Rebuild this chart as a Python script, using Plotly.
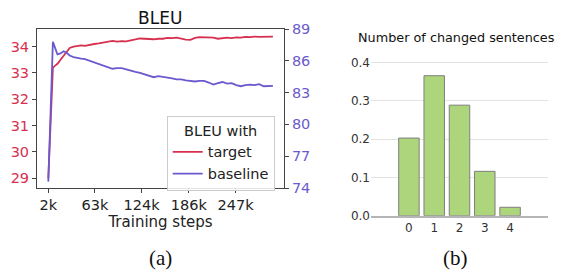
import plotly.graph_objects as go

# ---- data ----
steps_k = [2, 5, 8, 11, 14, 18, 22, 26, 30, 35, 40, 45, 50, 56, 62, 68, 74, 80, 86, 92,
           98, 104, 110, 116, 122, 128, 134, 140, 146, 152, 158, 164, 170, 176, 182, 188,
           194, 200, 206, 212, 218, 224, 230, 236, 242, 248, 254, 260, 266, 272, 278, 284,
           290, 296]
bleu_target = [29.0, 30.9, 33.2, 33.28, 33.35, 33.5, 33.65, 33.8, 33.95, 34.0, 34.02, 34.05,
               34.03, 34.07, 34.1, 34.12, 34.16, 34.2, 34.22, 34.19, 34.21, 34.2, 34.24, 34.27,
               34.31, 34.3, 34.29, 34.28, 34.3, 34.3, 34.33, 34.32, 34.34, 34.3, 34.27, 34.26,
               34.33, 34.36, 34.35, 34.34, 34.34, 34.3, 34.33, 34.34, 34.32, 34.35, 34.34, 34.37,
               34.36, 34.38, 34.37, 34.38, 34.39, 34.38]
bleu_baseline = [74.6, 81.5, 87.8, 87.2, 86.6, 86.7, 86.9, 86.75, 86.5, 86.35, 86.25, 86.2,
                 86.15, 86.0, 85.85, 85.7, 85.55, 85.35, 85.25, 85.3, 85.3, 85.2, 85.05, 84.95,
                 84.85, 84.7, 84.6, 84.45, 84.55, 84.5, 84.45, 84.35, 84.25, 84.25, 84.15, 84.1,
                 84.05, 84.1, 84.1, 83.95, 83.75, 83.9, 84.0, 83.85, 83.9, 83.7, 83.6, 83.7,
                 83.75, 83.7, 83.8, 83.6, 83.65, 83.63]
step_tickvals = [2, 63, 124, 186, 247]
step_ticktext = ["2k", "63k", "124k", "186k", "247k"]
left_ticks = [29, 30, 31, 32, 33, 34]
right_ticks = [74, 77, 80, 83, 86, 89]

changed_counts = ["0", "1", "2", "3", "4"]
changed_frac = [0.203, 0.366, 0.289, 0.116, 0.022]
frac_ticks = [0.0, 0.1, 0.2, 0.3, 0.4]
frac_ticktext = ["0.0", "0.1", "0.2", "0.3", "0.4"]

RED = "#d7304f"
BLUE = "#6a5acd"
W, H = 564, 271

fig = go.Figure()
fig.add_trace(go.Scatter(x=steps_k, y=bleu_target, mode="lines", name="target",
                         line=dict(color=RED, width=1.8), xaxis="x", yaxis="y"))
fig.add_trace(go.Scatter(x=steps_k, y=bleu_baseline, mode="lines", name="baseline",
                         line=dict(color=BLUE, width=1.8), xaxis="x", yaxis="y2"))
fig.add_trace(go.Bar(x=[int(c) for c in changed_counts], y=changed_frac, showlegend=False,
                     marker=dict(color="#add57b", line=dict(color="#7f7f7f", width=1)),
                     xaxis="x2", yaxis="y3"))

def px_x(p):
    return p / W

def px_y(p):
    return 1 - p / H

axcol = "#444444"
tickfont = dict(family="DejaVu Sans", size=14.5, color="#222222")

fig.update_layout(
    template="none",
    width=W, height=H, autosize=False,
    margin=dict(l=0, r=0, t=0, b=0, pad=0),
    paper_bgcolor="white", plot_bgcolor="white",
    showlegend=True,
    bargap=0.19,
    font=dict(family="DejaVu Sans"),
    xaxis=dict(domain=[px_x(37), px_x(284)], range=[-12.8, 310.5], anchor="y", automargin=False,
               tickvals=step_tickvals, ticktext=step_ticktext, ticks="outside", ticklen=4,
               tickcolor=axcol, showline=True, linecolor=axcol, linewidth=1, mirror=True,
               showgrid=False, zeroline=False, tickfont=tickfont,
               title=dict(text="Training steps", font=dict(size=15, color="#222222"), standoff=0)),
    yaxis=dict(domain=[px_y(188), px_y(29)], range=[28.63, 34.67], anchor="x", automargin=False,
               tickvals=left_ticks, ticks="outside", ticklen=4, tickcolor=axcol,
               showline=True, linecolor=axcol, linewidth=1, mirror=True,
               showgrid=False, zeroline=False,
               tickfont=dict(family="DejaVu Sans", size=14.5, color=RED)),
    yaxis2=dict(overlaying="y", side="right", range=[74, 89], anchor="x", automargin=False,
                tickvals=right_ticks, ticks="outside", ticklen=4, tickcolor=axcol,
                showline=True, linecolor=axcol, linewidth=1,
                showgrid=False, zeroline=False,
                tickfont=dict(family="DejaVu Sans", size=14.5, color=BLUE)),
    xaxis2=dict(domain=[px_x(371), px_x(548)], range=[-1.5, 5.5], anchor="y3", automargin=False,
                tickvals=[0, 1, 2, 3, 4], ticktext=changed_counts, ticks="",
                showline=True, linecolor="#b5b5b5", linewidth=1.5, showgrid=False,
                zeroline=False, tickfont=dict(family="DejaVu Sans", size=12, color="#333333")),
    yaxis3=dict(domain=[px_y(215.7), px_y(55.05)], range=[0, 0.42], anchor="x2", automargin=False,
                tickvals=frac_ticks, ticktext=frac_ticktext, ticks="",
                showgrid=True, gridcolor="#e3e3e3", gridwidth=1, zeroline=False,
                showline=False, tickfont=dict(family="DejaVu Sans", size=12, color="#333333")),
    legend=dict(x=px_x(166.7), y=px_y(116), xanchor="left", yanchor="top",
                bgcolor="rgba(255,255,255,0.85)", bordercolor="#cccccc", borderwidth=1,
                font=dict(family="DejaVu Sans", size=14.5, color="#222222"),
                title=dict(text="BLEU with", side="top center",
                           font=dict(family="DejaVu Sans", size=14.5, color="#222222")),
                tracegroupgap=0),
)

fig.add_annotation(text="BLEU", x=px_x(160), y=px_y(18), xref="paper", yref="paper",
                   showarrow=False, font=dict(family="DejaVu Sans", size=17, color="#111111"),
                   xanchor="center", yanchor="middle")
fig.add_annotation(text="Number of changed sentences", x=px_x(356), y=px_y(37),
                   xref="paper", yref="paper", showarrow=False,
                   font=dict(family="DejaVu Sans", size=12.8, color="#111111"),
                   xanchor="left", yanchor="middle")
fig.add_annotation(text="(a)", x=px_x(160), y=px_y(258), xref="paper", yref="paper",
                   showarrow=False, font=dict(family="Liberation Serif", size=21, color="#111111"),
                   xanchor="center", yanchor="middle")
fig.add_annotation(text="(b)", x=px_x(456), y=px_y(258), xref="paper", yref="paper",
                   showarrow=False, font=dict(family="Liberation Serif", size=21, color="#111111"),
                   xanchor="center", yanchor="middle")

fig.write_html("out.html", config={"displayModeBar": False},
               post_script="document.body.style.margin='0';document.body.style.padding='0';"
                           "document.body.style.overflow='hidden';")
